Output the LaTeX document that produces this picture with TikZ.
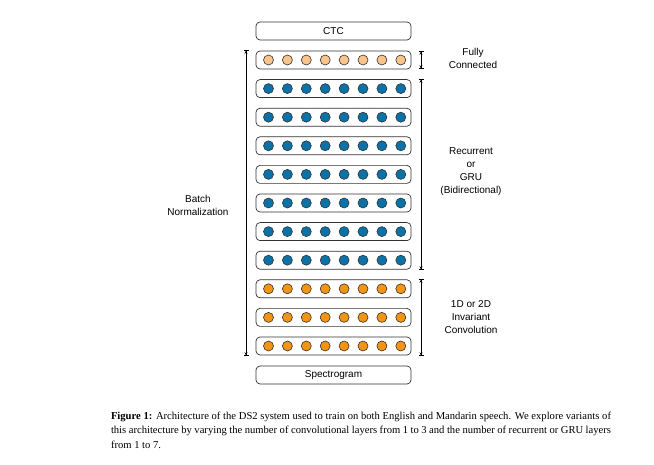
\documentclass[tikz,border=0pt]{standalone}
\usepackage{fontspec}
\setmainfont{Liberation Serif}
\setsansfont{Liberation Sans}
\usetikzlibrary{arrows.meta}
\begin{document}
\begin{tikzpicture}[x=1pt,y=-1pt,
  layerbox/.style={draw=black!80,rounded corners=4pt,minimum width=155pt,minimum height=18pt,line width=0.7pt,inner sep=0pt},
  endbox/.style={layerbox,font=\sffamily\fontsize{10}{12}\selectfont},
  lab/.style={font=\sffamily\fontsize{10}{13}\selectfont,align=center},
  dot/.style={circle,draw=black!80,line width=0.6pt,minimum size=10pt,inner sep=0pt},
  span/.style={line width=0.7pt,{Bar[width=5pt]Stealth[length=3pt,width=3pt]}-{Stealth[length=3pt,width=3pt]Bar[width=5pt]}}]
\useasboundingbox (0,0) rectangle (654,465);
\definecolor{fc}{HTML}{F8C48A}
\definecolor{rnn}{HTML}{0B72A8}
\definecolor{cnn}{HTML}{F39414}
\node[endbox] (ctc) at (333.5,31) {CTC};
\node[endbox] (spec) at (333.5,375) {Spectrogram};
\foreach \i/\y/\c in {0/60/fc,1/88.6/rnn,2/117.2/rnn,3/145.8/rnn,4/174.4/rnn,5/203/rnn,6/231.6/rnn,7/260.2/rnn,8/288.8/cnn,9/317.4/cnn,10/346/cnn}{
  \node[layerbox] (L\i) at (333.5,\y) {};
  \foreach \k in {0,...,7}{
    \node[dot,fill=\c] (D\i-\k) at (268.5+\k*18.9,\y) {};
  }
}
\coordinate (bnT) at (246,50);
\coordinate (bnB) at (246,356);
\draw[span] (bnT) -- (bnB);
\coordinate (fcT) at (421,51);
\coordinate (fcB) at (421,69);
\draw[span] (fcT) -- (fcB);
\coordinate (rT) at (421,79);
\coordinate (rB) at (421,270);
\draw[span] (rT) -- (rB);
\coordinate (cT) at (421,279);
\coordinate (cB) at (421,356);
\draw[span] (cT) -- (cB);
\node[lab] (tfc) at (473,58) {Fully\\Connected};
\node[lab] (trnn) at (471,172) {Recurrent\\or\\GRU\\(Bidirectional)};
\node[lab] (tcnn) at (471,317) {1D or 2D\\Invariant\\Convolution};
\node[lab] (tbn) at (198,205) {Batch\\Normalization};
\node[text width=500pt,align=justify,inner sep=0pt,font=\fontsize{10.6}{14.5}\selectfont] (cap) at (361,430)
 {\textbf{Figure 1:} Architecture of the DS2 system used to train on both English and Mandarin speech. We explore variants of this architecture by varying the number of convolutional layers from 1 to 3 and the number of recurrent or GRU layers from 1 to 7.};
\end{tikzpicture}
\end{document}
